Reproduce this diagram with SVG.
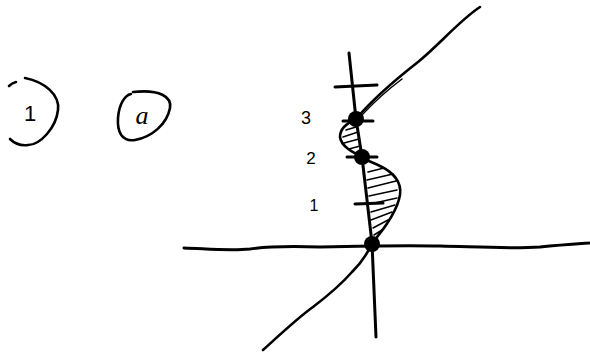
<svg xmlns="http://www.w3.org/2000/svg" width="590" height="355" viewBox="0 0 590 355">
<style>
.s{fill:none;stroke:#000;stroke-linecap:round;stroke-linejoin:round}
.ax{stroke-width:3}
.c{stroke-width:2.6}
.h{stroke-width:1.5}
.t{font-family:"Liberation Sans",Arial,sans-serif;fill:#000}
.hand{font-family:"Liberation Serif",serif;font-style:italic;fill:#000}
</style>
<rect width="590" height="355" fill="#fff"/>
<g id="label-1">
<path class="s c" d="M9,86 Q12,83 16,82"/>
<path class="s c" d="M25,78 C45,82 60,95 58,110 C56,128 40,145 28,145 C20,146 14,143 10,139"/>
<text class="t" x="30" y="121" font-size="22" text-anchor="middle">1</text>
</g>
<g id="label-a">
<path class="s c" d="M133,92 C160,89 172,97 170,108 C167,124 152,137 135,140 C122,142 117,132 118,118 C119,104 125,95 131,94"/>
<text class="hand" x="142" y="124" font-size="26" text-anchor="middle">a</text>
</g>
<g id="axes">
<path class="s ax" d="M184,248 C210,249 230,251 250,249 C270,246 290,246 320,247 C360,246 400,245 440,246 C480,247 510,249 540,247 C560,245 575,244 589,243"/>
<path class="s ax" d="M349,53 L356,119 L362,157 L372,243 L376,337"/>
</g>
<g id="ticks">
<path class="s ax" d="M335,87 L377,85"/>
<path class="s ax" d="M343,121 L373,121"/>
<path class="s ax" d="M347,157 L377,157"/>
<path class="s ax" d="M355,204 L383,203"/>
<text class="t" x="306" y="124" font-size="18" text-anchor="middle">3</text>
<text class="t" x="311" y="164" font-size="17" text-anchor="middle">2</text>
<text class="t" x="314" y="211" font-size="16" text-anchor="middle">1</text>
</g>
<g id="curve">
<path class="s c" d="M263,350 C285,330 300,316 313,307 C330,294 345,280 352,272 C360,264 368,253 372,243"/>
<path class="s c" d="M372,243 C385,228 397,212 400,195 C402,182 393,172 380,166 C372,162 365,160 362,157"/>
<path class="s c" d="M362,157 C352,152 341,146 340,137 C340,130 345,124 355,120"/>
<path class="s c" d="M356,119 C372,100 395,80 418,62 C440,44 460,20 480,7"/>
<path class="s h" d="M361,116 C375,101 390,88 402,79"/>
</g>
<g id="hatch">
<path class="s h" d="M346,130 L356,127 M343,137 L358,132 M344,143 L359,139 M349,149 L360,146"/>
<path class="s h" d="M368,172 L384,168 M367,180 L393,174 M368,188 L396,181 M369,196 L397,190 M370,204 L397,198 M371,212 L395,205 M371,220 L392,212 M373,228 L388,220 M374,235 L382,230"/>
</g>
<g id="points">
<circle cx="356" cy="119" r="8"/>
<circle cx="362" cy="157" r="8"/>
<circle cx="372" cy="244" r="8"/>
</g>
</svg>
